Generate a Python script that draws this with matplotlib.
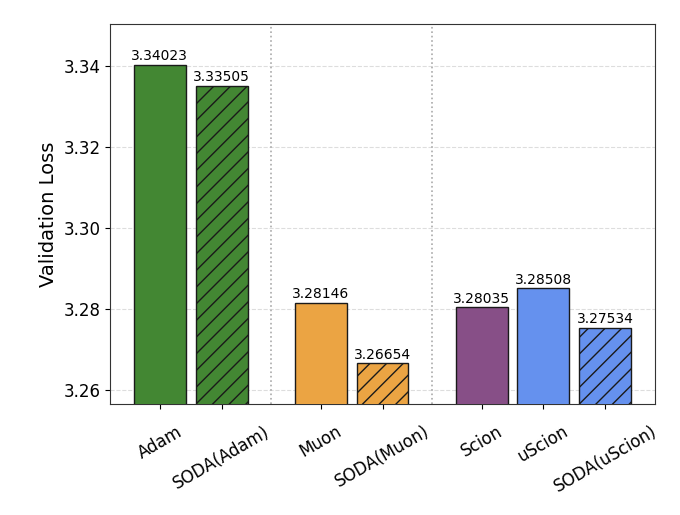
import matplotlib
matplotlib.use("Agg")
import matplotlib.pyplot as plt

# Data
optimizers = ["Adam", "SODA(Adam)", "Muon", "SODA(Muon)", "Scion", "uScion", "SODA(uScion)"]
losses = [3.34023, 3.33505, 3.28146, 3.26654, 3.28035, 3.28508, 3.27534]
positions = [0, 1, 2.6, 3.6, 5.2, 6.2, 7.2]
separators = [1.8, 4.4]
colors = ["#438733", "#438733", "#eba443", "#eba443", "#874f87", "#6591ee", "#6591ee"]
hatches = ["", "//", "", "//", "", "", "//"]


def main():
    fig = plt.figure(figsize=(6.8, 5.15), dpi=100)
    ax = fig.add_axes([0.162, 0.216, 0.801, 0.737])

    plt.rcParams["hatch.linewidth"] = 1.0
    for x, y, c, h in zip(positions, losses, colors, hatches):
        ax.bar(x, y, width=0.84, color=c, edgecolor="#1a1a1a",
               linewidth=1.0, hatch=h, zorder=3)
        ax.text(x, y + 0.0004, f"{y:.5f}", ha="center", va="bottom",
                fontsize=10, zorder=4)

    for s in separators:
        ax.axvline(s, color="#aaaaaa", linestyle=":", linewidth=1.2, zorder=1)

    ax.set_ylim(min(losses) - 0.01, max(losses) + 0.01)
    ax.set_xlim(-0.8, 8.0)
    ax.set_yticks([3.26, 3.28, 3.30, 3.32, 3.34])
    ax.set_yticklabels(["3.26", "3.28", "3.30", "3.32", "3.34"])
    ax.set_xticks(positions)
    ax.set_xticklabels(optimizers, rotation=30, ha="center", fontsize=12)
    ax.tick_params(axis="x", pad=10)
    ax.tick_params(axis="y", labelsize=12)
    ax.set_ylabel("Validation Loss", fontsize=14)
    ax.yaxis.grid(True, linestyle="--", color="#dddddd", linewidth=0.8, zorder=0)
    ax.set_axisbelow(True)
    for sp in ax.spines.values():
        sp.set_color("#333333")

    fig.savefig("out.png", dpi=100)


if __name__ == "__main__":
    main()
